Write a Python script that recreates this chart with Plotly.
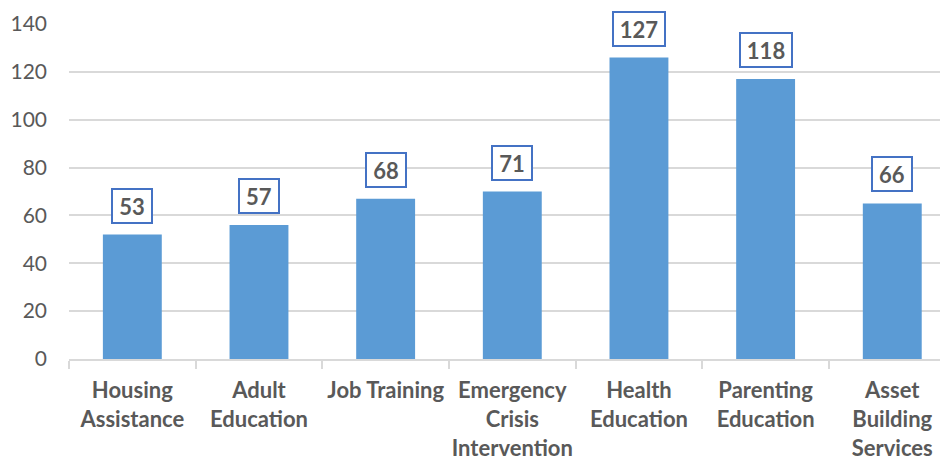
import plotly.graph_objects as go

# service categories and counts
services = ["Housing<br>Assistance", "Adult<br>Education", "Job Training",
            "Emergency<br>Crisis<br>Intervention", "Health<br>Education",
            "Parenting<br>Education", "Asset<br>Building<br>Services"]
bar_heights = [52, 56, 67, 70, 126, 117, 65]
label_text = ["53", "57", "68", "71", "127", "118", "66"]

GRAY = "#595959"
FONT = "Lato"

fig = go.Figure()
fig.add_trace(go.Bar(x=services, y=bar_heights, marker_color="#5b9bd5",
                     marker_line_width=0, width=0.465))

#Boxed data labels above each bar
for s, h, t in zip(services, bar_heights, label_text):
    fig.add_annotation(x=s, y=h, text="<b>" + t + "</b>", showarrow=False,
                       yanchor="middle", yshift=29,
                       width=12 * len(t) + 10, height=28,
                       font=dict(family=FONT, size=22, color=GRAY),
                       bgcolor="white", bordercolor="#4472c4", borderwidth=2,
                       borderpad=2)

# page adds an 8px body margin, so the figure is offset by 8px
fig.update_layout(
    width=948, height=454,
    margin=dict(l=61, r=8, t=16, b=103),
    paper_bgcolor="white", plot_bgcolor="white",
    showlegend=False,
    font=dict(family=FONT, color=GRAY),
)
fig.update_xaxes(
    range=[-0.5, 6.44], tickson="boundaries", ticks="outside", ticklen=8,
    tickcolor="#d9d9d9", tickwidth=2, showline=True, linecolor="#d9d9d9",
    linewidth=2, showgrid=False, ticklabelstandoff=11, tickangle=0,
    automargin=False,
    tickfont=dict(family=FONT, size=22, color=GRAY, weight="bold"),
)
fig.update_yaxes(
    range=[0, 140], dtick=20, showgrid=True, gridcolor="#d9d9d9", gridwidth=2,
    zeroline=False, showline=False, ticks="", ticklabelstandoff=21,
    automargin=False,
    tickfont=dict(family=FONT, size=21, color=GRAY),
)

fig.write_html("out.html")
